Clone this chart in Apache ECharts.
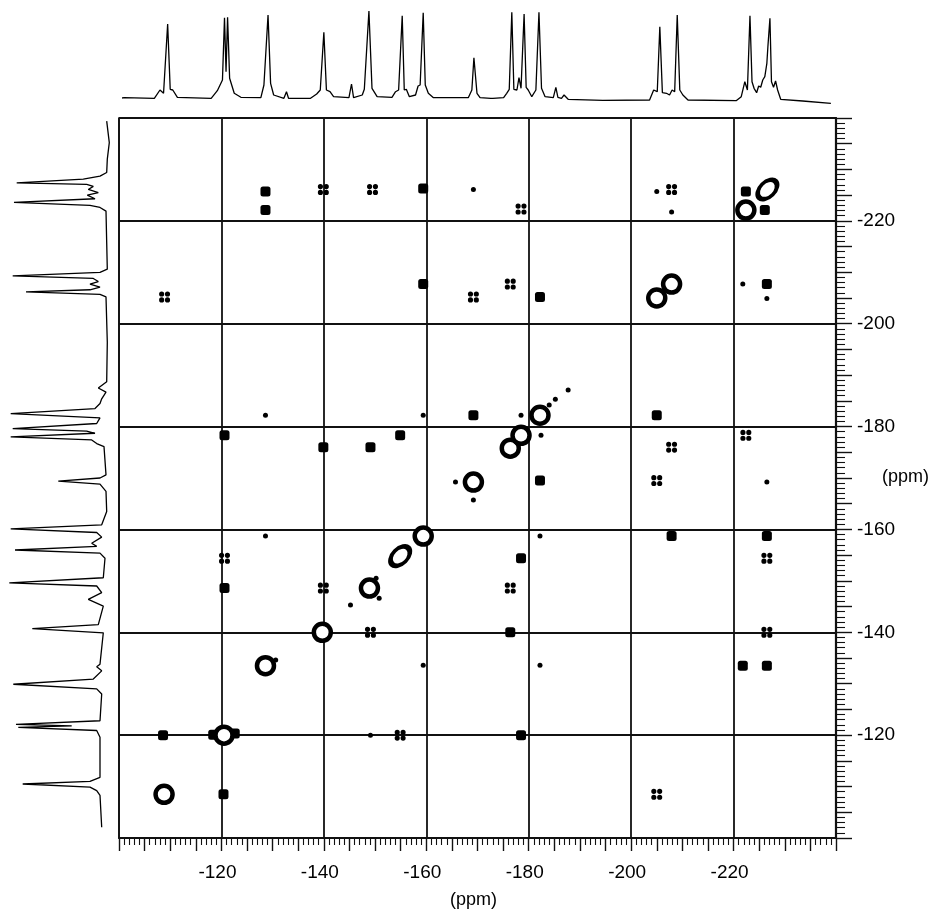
<!DOCTYPE html>
<html>
<head>
<meta charset="utf-8">
<script src="https://cdn.jsdelivr.net/npm/echarts@6/dist/echarts.min.js"></script>
<style>html,body{margin:0;padding:0;background:#fff}#c{width:932px;height:920px}</style>
</head>
<body>
<div id="c"></div>
<script>
// ---- tick labels ----
const xTickLabels = [-120, -140, -160, -180, -200, -220];
const yTickLabels = [-120, -140, -160, -180, -200, -220];

// ---- top projection (ppm, intensity) ----
const topPpm = [-100.6,-101.0,-106.9,-108.0,-108.7,-109.5,-110.0,-110.5,-111.4,-118.0,-119.2,-120.2,-120.6,-120.9,-121.2,-121.6,-122.5,-123.8,-127.7,-128.3,-129.1,-129.6,-130.2,-132.2,-132.7,-133.1,-137.4,-138.6,-139.3,-140.0,-140.5,-141.2,-141.9,-144.9,-145.4,-145.8,-147.5,-147.9,-148.8,-149.4,-150.4,-153.3,-154.0,-154.6,-155.3,-155.7,-156.1,-156.7,-157.9,-158.4,-158.8,-159.4,-159.8,-160.4,-161.4,-168.2,-168.9,-169.3,-169.9,-170.5,-172.6,-172.8,-173.0,-175.1,-175.7,-176.2,-176.7,-177.1,-177.7,-178.1,-178.5,-179.1,-179.5,-179.9,-180.6,-181.4,-182.0,-182.5,-183.2,-184.8,-185.3,-185.7,-186.4,-186.9,-187.7,-194.5,-203.6,-204.4,-205.1,-205.6,-206.1,-206.9,-207.5,-208.0,-208.5,-209.0,-209.5,-210.1,-211.1,-220.5,-221.5,-222.2,-222.7,-223.2,-223.6,-224.0,-224.5,-224.9,-225.3,-225.7,-226.1,-226.5,-226.7,-227.1,-227.4,-227.8,-228.2,-228.6,-229.2,-233.5,-239.0];
const topInt = [2,2.3,1.7,10,6.7,76,10.7,10,2.7,1.7,9.3,20,82.3,28.3,82.7,21.7,6.7,2.7,2.3,15,85,16.7,5,1.7,8.3,1.7,1.7,6,10,67.7,10,8.3,3.3,2.3,16,2.3,5,10.7,89,11.7,3.3,2.7,8.3,10,84.3,10,10.7,3.3,5,14,15,87.3,15,6.7,2.3,2.3,10,42.3,6.7,2.3,1.7,3.5,1.7,2.3,6.7,10.7,87.7,10.7,10,22.3,11.7,86,12.7,10,3.3,10,87.7,11.7,3.3,2.3,12.7,2.7,1.7,5,0.7,-0.3,0,10,8.3,73.3,7.3,6.7,5,10,8.3,85,10,5,0,-0.7,3.3,18.3,10,84.3,18.3,11.7,7.3,14,12.7,20,23.3,36.7,53.3,81.7,18.3,12.7,19,10,0.7,-1,-3.3];

// ---- left projection (ppm, intensity) ----
const leftPpm = [-239.4,-235.2,-232.0,-229.4,-228.7,-228.1,-227.4,-227.1,-226.7,-226.1,-225.5,-225.0,-224.3,-223.6,-223.0,-222.6,-221.9,-215.8,-210.6,-210.0,-209.3,-208.8,-208.2,-207.7,-207.1,-206.6,-206.2,-205.7,-205.2,-196.4,-188.7,-187.5,-186.7,-185.4,-184.5,-183.5,-182.5,-181.7,-180.6,-179.6,-179.1,-178.7,-178.0,-177.4,-176.7,-176.1,-170.6,-170.0,-169.4,-168.8,-167.4,-163.5,-160.9,-160.1,-159.4,-158.5,-157.3,-156.7,-156.0,-155.4,-154.4,-150.6,-149.6,-149.0,-147.7,-146.4,-145.1,-141.5,-140.7,-139.9,-133.8,-133.3,-132.5,-130.9,-129.9,-129.0,-128.0,-122.8,-122.1,-121.8,-121.5,-120.9,-119.6,-111.8,-111.0,-110.5,-109.9,-109.2,-108.3,-102.1];
const leftInt = [0.3,-2.3,-0.3,0.3,7,23.7,90.3,20.3,13.7,18.7,8.7,19.7,12,93,17,7,1,0.3,-0.3,7,94.3,13.7,8.7,17,7,17,81,7,1,-0.3,0.3,8.7,1,5.3,7,12,96.3,7,10.3,94.3,20.3,12,96.3,15.3,10.3,3,1,7,48.7,7,1,0.3,5.3,96.3,10.3,5.3,15.3,10.3,92,7,2,3.7,97.7,10.3,5.3,18.7,3.7,8.7,74.7,3.7,7,10.3,5.3,13.7,93.7,10.3,5.3,7,91,35.3,88.7,10.3,7,7,17,84.3,17,10.3,7,5.3];

// ---- 2D cross / diagonal peaks [F2 ppm, F1 ppm] ----
const diagonalRings = [[-108.8,-108.5],[-120.5,-120.0],[-128.6,-133.5],[-139.7,-140.0],[-148.9,-148.6],[-159.4,-158.7],[-169.2,-169.2],[-176.4,-175.8],[-178.5,-178.3],[-182.2,-182.2],[-205.0,-205.0],[-207.9,-207.7],[-222.4,-222.1]];
const elongatedRings = [[-154.9,-154.8],[-226.6,-226.1]];
const squarePeaks = [[-128.6,-225.7],[-128.6,-222.1],[-159.4,-226.3],[-159.4,-207.7],[-182.2,-205.2],[-222.4,-225.7],[-226.1,-222.1],[-226.5,-207.7],[-169.2,-182.2],[-205.0,-182.2],[-120.6,-178.3],[-139.9,-176.0],[-149.1,-176.0],[-154.9,-178.3],[-182.2,-169.5],[-207.9,-158.7],[-226.5,-158.7],[-178.5,-154.4],[-120.6,-148.6],[-176.4,-140.0],[-221.8,-133.5],[-226.5,-133.5],[-108.6,-120.0],[-178.5,-120.0],[-120.4,-108.5],[-118.4,-120.1],[-122.6,-120.3]];
const quadPeaks = [[-139.9,-226.1],[-149.5,-226.1],[-178.5,-222.3],[-207.9,-226.1],[-108.9,-205.2],[-169.2,-205.2],[-176.4,-207.7],[-207.9,-176.0],[-205.0,-169.5],[-120.6,-154.4],[-226.5,-154.4],[-139.9,-148.6],[-176.4,-148.6],[-149.1,-140.0],[-226.5,-140.0],[-154.9,-120.0],[-205.0,-108.5],[-222.4,-178.3]];
const dotPeaks = [[-169.2,-226.1],[-205.0,-225.7],[-207.9,-221.7],[-221.8,-207.7],[-226.5,-204.9],[-128.6,-182.2],[-159.4,-182.2],[-178.5,-182.2],[-182.4,-178.3],[-165.7,-169.2],[-169.2,-165.7],[-226.5,-169.2],[-128.6,-158.7],[-182.2,-158.7],[-159.4,-133.6],[-182.2,-133.6],[-149.1,-120.0],[-187.7,-187.1],[-145.2,-145.3],[-150.2,-150.5],[-150.8,-146.6],[-130.6,-134.6],[-184.0,-184.2],[-185.2,-185.3]];

const AXC = '#111';
const FONT = 'Liberation Sans, Arial, Helvetica, sans-serif';
const G = {left: 119, top: 118, width: 717, height: 720};

const quadPath = 'path://M0,1.1a1.1,1.1 0 1,0 2.2,0a1.1,1.1 0 1,0 -2.2,0Z M2.5,1.1a1.1,1.1 0 1,0 2.2,0a1.1,1.1 0 1,0 -2.2,0Z M0,3.6a1.1,1.1 0 1,0 2.2,0a1.1,1.1 0 1,0 -2.2,0Z M2.5,3.6a1.1,1.1 0 1,0 2.2,0a1.1,1.1 0 1,0 -2.2,0Z';

const chart = echarts.init(document.getElementById('c'), null, {renderer: 'canvas'});
chart.setOption({
  animation: false,
  backgroundColor: '#fff',
  grid: [
    Object.assign({show: true, borderColor: AXC, borderWidth: 1.6, backgroundColor: 'transparent'}, G),
    {left: G.left, width: G.width, top: 0, height: 105},
    {left: 0, width: 110, top: G.top, height: G.height}
  ],
  xAxis: [
    {gridIndex: 0, type: 'value', min: -240, max: -100, inverse: true, interval: 5, position: 'bottom',
     axisLine: {show: true, onZero: false, lineStyle: {color: AXC, width: 2.2}},
     axisTick: {show: true, length: 13, lineStyle: {color: AXC, width: 1.4}},
     minorTick: {show: true, splitNumber: 5, length: 7, lineStyle: {color: AXC, width: 1.1}},
     splitLine: {show: false},
     axisLabel: {margin: 25, color: '#000', fontSize: 19, fontFamily: FONT, padding: [0, 8, 0, 0],
       formatter: v => xTickLabels.includes(v) ? String(v) : ''}},
    {gridIndex: 0, type: 'value', min: -240, max: -100, inverse: true, interval: 20,
     axisLine: {show: false}, axisTick: {show: false}, axisLabel: {show: false},
     splitLine: {show: true, lineStyle: {color: AXC, width: 1.8}}},
    {gridIndex: 1, type: 'value', min: -240, max: -100, inverse: true, show: false},
    {gridIndex: 2, type: 'value', min: -3, max: 107, inverse: true, show: false}
  ],
  yAxis: [
    {gridIndex: 0, type: 'value', min: -240, max: -100, inverse: true, interval: 5, position: 'right',
     axisLine: {show: true, onZero: false, lineStyle: {color: AXC, width: 2.2}},
     axisTick: {show: true, length: 16, lineStyle: {color: AXC, width: 1.4}},
     minorTick: {show: true, splitNumber: 5, length: 9, lineStyle: {color: AXC, width: 1.1}},
     splitLine: {show: false},
     axisLabel: {margin: 21, color: '#000', fontSize: 19, fontFamily: FONT,
       formatter: v => yTickLabels.includes(v) ? String(v) : ''}},
    {gridIndex: 0, type: 'value', min: -240, max: -100, inverse: true, interval: 20,
     axisLine: {show: false}, axisTick: {show: false}, axisLabel: {show: false},
     splitLine: {show: true, lineStyle: {color: AXC, width: 1.8}}},
    {gridIndex: 1, type: 'value', min: -5, max: 100, show: false},
    {gridIndex: 2, type: 'value', min: -240, max: -100, inverse: true, show: false}
  ],
  graphic: [
    {type: 'text', left: 450, top: 891, style: {text: '(ppm)', fontSize: 18, fontFamily: FONT, fill: '#000'}},
    {type: 'text', left: 882, top: 468, style: {text: '(ppm)', fontSize: 18, fontFamily: FONT, fill: '#000'}}
  ],
  series: [
    {type: 'line', xAxisIndex: 2, yAxisIndex: 2, showSymbol: false, symbol: 'none', clip: false,
     lineStyle: {color: '#000', width: 1.3}, data: topPpm.map((p, i) => [p, topInt[i]])},
    {type: 'line', xAxisIndex: 3, yAxisIndex: 3, showSymbol: false, symbol: 'none', clip: false,
     lineStyle: {color: '#000', width: 1.3}, data: leftPpm.map((p, i) => [leftInt[i], p])},
    {type: 'scatter', xAxisIndex: 0, yAxisIndex: 0, symbol: 'roundRect', symbolSize: 10,
     itemStyle: {color: '#000', opacity: 1}, data: squarePeaks, z: 4},
    {type: 'scatter', xAxisIndex: 0, yAxisIndex: 0, symbol: 'circle', symbolSize: 17,
     itemStyle: {color: '#fff', borderColor: '#000', borderWidth: 4.5, opacity: 1}, data: diagonalRings, z: 5},
    {type: 'scatter', xAxisIndex: 0, yAxisIndex: 0, symbol: 'circle', symbolSize: [23, 15], symbolRotate: 45,
     itemStyle: {color: '#fff', borderColor: '#000', borderWidth: 4.5, opacity: 1}, data: elongatedRings, z: 5},
    {type: 'scatter', xAxisIndex: 0, yAxisIndex: 0, symbol: quadPath, symbolSize: 11,
     itemStyle: {color: '#000', opacity: 1}, data: quadPeaks, z: 4},
    {type: 'scatter', xAxisIndex: 0, yAxisIndex: 0, symbol: 'circle', symbolSize: 5,
     itemStyle: {color: '#000', opacity: 1}, data: dotPeaks, z: 4}
  ]
});
</script>
</body>
</html>
